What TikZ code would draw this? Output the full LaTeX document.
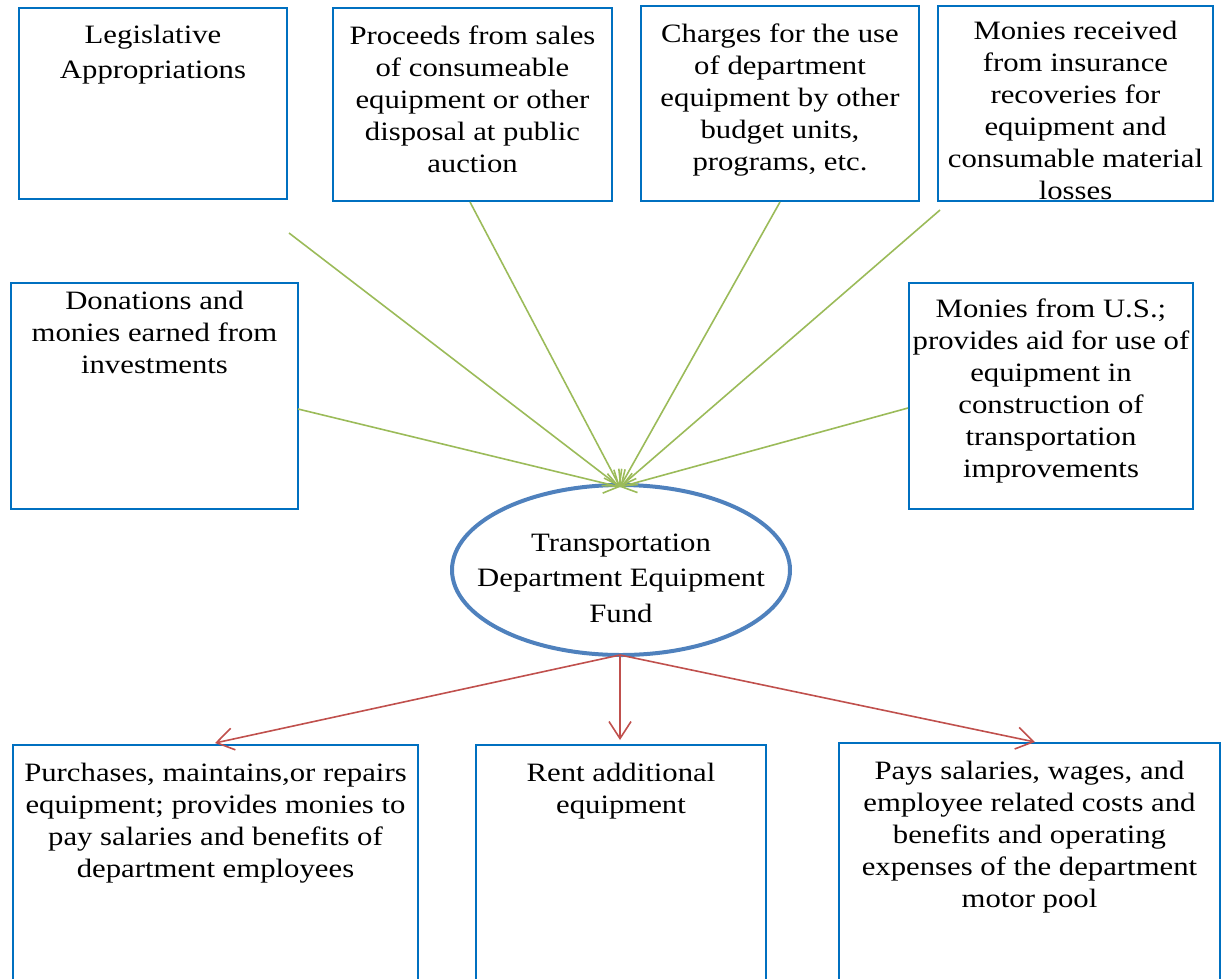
\documentclass[tikz,border=0pt]{standalone}
\usepackage{fontspec}
\setmainfont{Liberation Serif}[FakeStretch=1.16]
\usetikzlibrary{arrows.meta,shapes.geometric}
\definecolor{boxblue}{RGB}{0,112,192}
\definecolor{ellblue}{RGB}{79,129,189}
\definecolor{ggreen}{RGB}{155,187,89}
\definecolor{rred}{RGB}{192,80,77}
\tikzset{
  srcbox/.style={draw=boxblue, line width=2pt, anchor=north west, align=center,
    inner xsep=0pt, inner ysep=0pt, font=\fontsize{26.5}{32}\selectfont},
  fundell/.style={ellipse, draw=ellblue, line width=4pt, inner xsep=-40pt, inner ysep=0pt, align=center,
    minimum width=338pt, minimum height=170pt, font=\fontsize{26.5}{35.5}\selectfont},
  inflow/.style={draw=ggreen, line width=1.6pt, -{Straight Barb[length=14pt,width=20pt,line width=1.6pt]}},
  outflow/.style={draw=rred, line width=1.6pt, -{Straight Barb[length=17pt,width=22pt,line width=1.6pt]}}
}
\begin{document}
\begin{tikzpicture}[x=1pt,y=-1pt]
\useasboundingbox (0,0) rectangle (1221,978);
\clip (0,0) rectangle (1221,978);
% top row
\node[srcbox, font=\fontsize{26.5}{35}\selectfont, minimum width=268pt, text height=70pt, text depth=121pt] (b1) at (18,7)
  {Legislative\\Appropriations};
\node[srcbox, minimum width=279pt, text height=164pt, text depth=29pt] (b2) at (332,7)
  {Proceeds from sales\\of consumeable\\equipment or other\\disposal at public\\auction};
\node[srcbox, minimum width=278pt, text height=164pt, text depth=31pt] (b3) at (640,5)
  {Charges for the use\\of department\\equipment by other\\budget units,\\programs, etc.};
\node[srcbox, minimum width=275pt, text height=193pt, text depth=2pt] (b4) at (937,5)
  {Monies received\\from insurance\\recoveries for\\equipment and\\consumable material\\losses};
% second row
\node[srcbox, minimum width=287pt, text height=90pt, text depth=136pt] (b5) at (10,282)
  {Donations and\\monies earned from\\investments};
\node[srcbox, minimum width=284pt, text height=194pt, text depth=32pt] (b6) at (908,282)
  {Monies from U.S.;\\provides aid for use of\\equipment in\\construction of\\transportation\\improvements};
% fund
\node[fundell, text height=110pt, text depth=6pt] (fund) at (621,570)
  {Transportation\\Department Equipment\\Fund};
% bottom row
\node[srcbox, minimum width=405pt, text height=132pt, text depth=114pt] (b7) at (12,744)
  {Purchases, maintains,or repairs\\equipment; provides monies to\\pay salaries and benefits of\\department employees};
\node[srcbox, minimum width=290pt, text height=68pt, text depth=178pt] (b8) at (475,744)
  {Rent additional\\equipment};
\node[srcbox, minimum width=381pt, text height=164pt, text depth=84pt] (b9) at (838,742)
  {Pays salaries, wages, and\\employee related costs and\\benefits and operating\\expenses of the department\\motor pool};
% connector ends
\coordinate (s1) at (289,233);
\coordinate (s2) at (470,202);
\coordinate (s3) at (780,202);
\coordinate (s4) at (940,210);
\coordinate (s5) at (298,409);
\coordinate (s6) at (908,408);
\coordinate (tip) at (620,487);
\coordinate (bot) at (620,655);
\coordinate (t7) at (215,743);
\coordinate (t8) at (620,740);
\coordinate (t9) at (1035,742);
% inflows
\foreach \s in {s1,s2,s3,s4,s5,s6} \draw[inflow] (\s) -- (tip);
% outflows
\draw[outflow] (bot) -- (t7);
\draw[outflow] (bot) -- (t8);
\draw[outflow] (bot) -- (t9);
\end{tikzpicture}
\end{document}
